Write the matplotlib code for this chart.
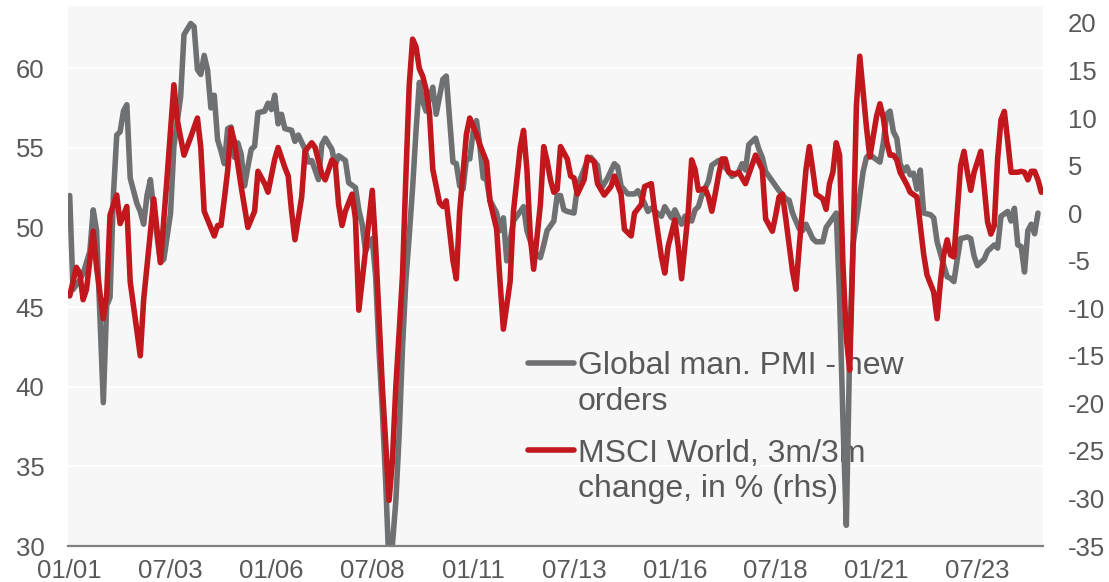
import matplotlib
matplotlib.use("Agg")
import matplotlib.pyplot as plt
from matplotlib.lines import Line2D

# months since Jan 2001
pmi_month = [0, 1, 3, 4, 5, 6, 7, 8, 10, 11, 12, 13, 14, 15, 16, 17, 18, 20, 21, 22,
             23, 24, 25, 27, 28, 30, 31, 33, 34, 36, 37, 38, 39, 40, 41, 42, 43, 44, 45, 46,
             47, 48, 49, 50, 51, 52, 53, 54, 55, 56, 58, 59, 60, 61, 62, 63, 64, 66, 67, 68,
             70, 71, 72, 74, 75, 76, 78, 79, 80, 82, 83, 85, 86, 87, 88, 89, 90, 91, 92, 93,
             94, 95, 96, 97, 98, 99, 100, 101, 102, 103, 104, 105, 106, 108, 109, 111, 112, 113, 114, 115,
             116, 117, 118, 119, 120, 121, 122, 123, 124, 125, 127, 128, 129, 130, 132, 134, 135, 136, 138, 140,
             141, 142, 144, 145, 146, 147, 148, 150, 151, 152, 154, 155, 157, 158, 160, 162, 163, 164, 166, 168,
             169, 171, 172, 173, 176, 177, 179, 180, 182, 183, 185, 186, 187, 188, 190, 191, 193, 194, 196, 197,
             199, 200, 201, 202, 204, 205, 206, 207, 208, 210, 211, 213, 214, 215, 217, 218, 219, 221, 222, 224,
             225, 227, 228, 229, 230, 231, 232, 233, 235, 236, 237, 238, 239, 241, 242, 243, 244, 245, 246, 247,
             248, 249, 250, 251, 252, 253, 254, 256, 257, 258, 260, 261, 262, 263, 264, 265, 267, 268, 269, 270,
             272, 273, 274, 275, 276, 277, 279, 280, 281, 282, 283, 284, 285, 286, 287, 288]
pmi_value = [52.0, 46.1, 46.7, 47.1, 47.8, 48.5, 51.1, 49.8, 39.0, 45.1, 45.6, 52.0, 55.8, 56.0, 57.3, 57.7, 53.1, 51.5, 51.0, 50.2,
             52.0, 53.0, 51.1, 47.8, 48.0, 50.9, 55.1, 58.2, 62.1, 62.8, 62.6, 59.9, 59.6, 60.8, 59.9, 57.5, 58.3, 55.5, 54.8, 54.0,
             56.2, 56.3, 54.4, 55.3, 54.6, 52.6, 53.8, 54.9, 55.1, 57.2, 57.3, 57.8, 57.4, 58.3, 56.5, 57.1, 56.2, 56.1, 55.4, 55.8,
             54.9, 54.1, 54.2, 53.0, 55.2, 55.6, 54.9, 53.9, 54.5, 54.2, 52.8, 52.5, 51.1, 50.2, 48.5, 49.0, 49.3, 46.9, 42.3, 38.5,
             34.0, 28.5, 30.1, 32.8, 37.0, 42.5, 46.7, 49.5, 52.5, 56.0, 59.1, 57.9, 57.3, 58.8, 57.1, 59.3, 59.5, 56.8, 54.1, 54.0,
             52.6, 52.4, 54.3, 54.3, 56.0, 56.7, 55.1, 53.1, 53.0, 51.7, 50.9, 49.8, 50.6, 47.9, 50.4, 51.0, 51.3, 49.8, 48.5, 48.1,
             48.9, 49.8, 50.4, 52.0, 52.0, 51.1, 51.0, 50.9, 52.5, 53.1, 54.2, 54.4, 53.9, 52.4, 53.1, 54.0, 53.8, 52.6, 52.1, 52.1,
             52.3, 51.5, 51.0, 51.2, 50.7, 51.3, 50.6, 51.1, 50.2, 50.7, 50.4, 51.1, 51.3, 52.0, 52.9, 53.9, 54.2, 54.0, 53.5, 53.2,
             53.5, 54.0, 53.6, 55.2, 55.6, 54.9, 54.4, 53.5, 53.2, 52.6, 52.3, 51.8, 51.7, 50.9, 49.9, 49.8, 50.2, 49.3, 49.1, 49.1,
             50.0, 50.6, 50.9, 45.6, 37.9, 31.3, 42.3, 48.9, 52.0, 53.5, 54.4, 54.6, 54.4, 54.1, 55.3, 57.1, 57.3, 56.0, 55.6, 54.0,
             53.5, 53.8, 53.3, 53.4, 52.4, 53.6, 50.9, 50.8, 50.6, 49.1, 47.6, 46.9, 46.8, 46.6, 48.0, 49.3, 49.4, 49.3, 48.2, 47.6,
             48.0, 48.5, 48.7, 48.9, 48.7, 50.7, 51.0, 50.4, 51.2, 48.9, 48.8, 47.2, 49.8, 50.2, 49.6, 50.9]

msci_month = [0, 2, 3, 4, 5, 7, 8, 10, 11, 12, 14, 15, 17, 18, 21, 22, 25, 27, 29, 31,
              32, 34, 36, 38, 39, 40, 43, 44, 45, 46, 47, 48, 49, 51, 53, 55, 56, 58, 59, 61,
              62, 64, 65, 66, 67, 69, 70, 72, 73, 75, 76, 78, 79, 80, 81, 82, 84, 85, 86, 88,
              90, 91, 93, 95, 96, 97, 98, 99, 100, 101, 102, 103, 104, 105, 106, 107, 108, 110, 111, 112,
              114, 115, 116, 118, 119, 121, 122, 124, 125, 127, 128, 129, 131, 132, 134, 135, 136, 137, 138, 140,
              141, 142, 143, 144, 145, 146, 148, 149, 150, 151, 153, 154, 156, 157, 159, 161, 162, 164, 165, 167,
              168, 170, 171, 173, 174, 176, 177, 178, 180, 181, 182, 184, 185, 186, 187, 189, 190, 191, 192, 193,
              194, 195, 196, 198, 199, 201, 202, 204, 206, 207, 209, 210, 211, 212, 213, 215, 216, 217, 219, 220,
              221, 222, 224, 225, 226, 227, 228, 229, 230, 231, 232, 233, 234, 235, 236, 237, 238, 240, 241, 242,
              243, 244, 245, 246, 247, 249, 250, 252, 253, 254, 255, 257, 258, 259, 260, 261, 262, 263, 264, 265,
              266, 267, 268, 269, 271, 272, 273, 274, 275, 276, 277, 278, 279, 280, 282, 283, 284, 285, 286, 287,
              288, 289]
msci_value = [-8.7, -5.7, -6.3, -9.1, -8.0, -1.9, -5.7, -11.1, -8.7, -0.2, 1.9, -1.1, 0.7, -7.2, -15.0, -9.1, 1.5, -5.2, 3.9, 13.5,
              9.8, 6.1, 8.0, 10.0, 6.9, 0.2, -2.4, -1.3, -1.3, 1.5, 4.5, 8.9, 7.5, 2.8, -1.5, 0.2, 4.4, 3.1, 2.2, 5.7,
              6.9, 4.8, 3.9, 0.2, -2.8, 1.7, 6.5, 7.4, 6.9, 4.1, 3.5, 5.6, 5.2, 0.9, -1.3, 0.2, 2.0, -0.6, -10.2, -3.9,
              2.4, -3.5, -18.3, -30.2, -26.0, -18.3, -12.5, -6.5, 3.9, 13.5, 18.3, 17.5, 15.2, 14.4, 13.0, 10.6, 4.6, 1.1, 0.7, 1.3,
              -5.0, -6.9, 0.2, 8.3, 10.0, 8.3, 7.2, 5.4, 1.3, -1.7, -7.2, -12.2, -7.2, 0.2, 6.9, 8.7, 4.6, -2.4, -5.9, 0.9,
              7.0, 5.5, 3.5, 2.2, 2.5, 7.0, 5.7, 3.9, 3.7, 2.0, 3.5, 5.9, 5.4, 3.1, 1.9, 2.8, 3.9, 2.0, -1.7, -2.4,
              0.0, 0.9, 2.8, 3.1, 0.2, -4.6, -6.3, -3.5, -0.7, -3.5, -6.9, 0.2, 5.6, 4.6, 2.4, 2.6, 1.7, 0.2, 2.0, 4.0,
              5.7, 5.7, 4.3, 4.1, 4.3, 3.1, 4.1, 6.1, 4.6, -0.6, -1.9, -0.2, 1.7, 2.0, -0.6, -6.1, -8.0, -3.5, 4.6, 7.0,
              4.6, 2.0, 1.5, 0.4, 3.1, 4.3, 7.4, 6.1, -5.4, -13.1, -16.5, -3.5, 11.3, 16.5, 12.8, 9.0, 5.9, 10.2, 11.5, 10.0,
              7.5, 6.1, 6.1, 5.6, 4.3, 3.0, 2.2, 1.7, -1.3, -4.3, -6.5, -8.3, -11.1, -7.2, -4.3, -2.8, -4.4, -4.6, 0.2, 5.0,
              6.5, 4.3, 2.4, 4.3, 6.5, 2.8, -0.9, -2.2, -1.3, 5.7, 9.8, 10.7, 7.6, 4.3, 4.3, 4.4, 4.3, 3.5, 4.4, 4.4,
              3.5, 2.2]

tick_months = [0, 30, 60, 90, 120, 150, 180, 210, 240, 270]
tick_labels = ["01/01", "07/03", "01/06", "07/08", "01/11", "07/13", "01/16", "07/18", "01/21", "07/23"]

pmi_label = ["Global man. PMI - new", "orders"]
msci_label = ["MSCI World, 3m/3m", "change, in % (rhs)"]

GRAY = "#6f7072"
RED = "#c1171d"
TXT = "#595959"
plt.rcParams["font.family"] = ["Liberation Sans", "DejaVu Sans"]
plt.rcParams["axes.unicode_minus"] = False

fig = plt.figure(figsize=(11.09, 5.82), dpi=100)
ax1 = fig.add_axes([68 / 1109, 1 - 546 / 582, (1043 - 68) / 1109, 540 / 582])
ax2 = ax1.twinx()

ax1.set_facecolor("#f7f7f7")
ax1.plot(pmi_month, pmi_value, color=GRAY, lw=4, solid_joinstyle="round",
         solid_capstyle="round", zorder=2)
ax2.plot(msci_month, msci_value, color=RED, lw=4, solid_joinstyle="round",
         solid_capstyle="round", zorder=2)

ax1.set_xlim(-0.5, 289.5)
ax1.set_ylim(30, 30 + 540 / 15.93)
ax2.set_ylim(-35, -35 + 540 / 9.51)
ax1.set_yticks(range(30, 61, 5))
ax2.set_yticks(range(-35, 21, 5))
ax1.set_xticks(tick_months)
ax1.set_xticklabels(tick_labels)

ax1.grid(axis="y", color="white", lw=1.6)
ax1.set_axisbelow(True)

for s in ["top", "left", "right"]:
    ax1.spines[s].set_visible(False)
    ax2.spines[s].set_visible(False)
ax2.spines["bottom"].set_visible(False)
ax1.spines["bottom"].set_color("#808080")
ax1.spines["bottom"].set_linewidth(1.6)

ax1.tick_params(axis="y", length=0, pad=17, labelsize=18.5, labelcolor=TXT)
ax2.tick_params(axis="y", length=0, pad=18, labelsize=18.5, labelcolor=TXT)
ax1.tick_params(axis="x", length=0, pad=9, labelsize=18.5, labelcolor=TXT)

# legend drawn by hand so the handle sits on the first text line
for lbl, col, y0 in [(pmi_label, GRAY, 363), (msci_label, RED, 450)]:
    ax1.add_line(Line2D([528 / 1109, 574 / 1109], [1 - y0 / 582] * 2, transform=fig.transFigure,
                        color=col, lw=4, solid_capstyle="round", clip_on=False, zorder=1))
    for i, line in enumerate(lbl):
        ax1.text(578 / 1109, 1 - (y0 + 36 * i) / 582, line, transform=fig.transFigure,
                 fontsize=23, color=TXT, va="center_baseline", ha="left", zorder=1, clip_on=False)

fig.savefig("out.png", dpi=100)
